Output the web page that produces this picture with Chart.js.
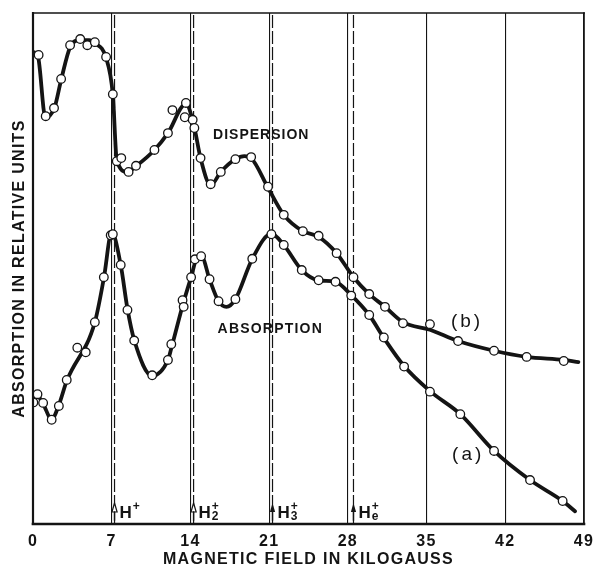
<!DOCTYPE html>
<html><head><meta charset="utf-8">
<script src="https://cdn.jsdelivr.net/npm/chart.js@4.4.1/dist/chart.umd.min.js"></script>
<style>html,body{margin:0;padding:0;background:#fff;}#wrap{width:597px;height:567px;}</style>
</head><body><div id="wrap"><canvas id="c" width="597" height="567"></canvas></div>
<script>
// x-axis (magnetic field, kilogauss) tick values
const xTicks = [0, 7, 14, 21, 28, 35, 42, 49];

// (b) Dispersion: measured points
const dispX = [0.5, 1.13, 1.87, 2.5, 3.3, 4.2, 4.83, 5.5, 6.5, 7.1, 7.45, 7.85, 8.5, 9.16, 10.8, 12.0, 12.4, 13.5, 13.6, 14.2, 14.35, 14.9, 15.8, 16.7, 18.0, 19.4, 20.9, 22.3, 24.0, 25.4, 27.0, 28.5, 29.9, 31.3, 32.9, 35.3, 37.8, 41.0, 43.9, 47.2];
const dispY = [91.8, 79.8, 81.4, 87.1, 93.7, 94.9, 93.7, 94.3, 91.4, 84.1, 71.0, 71.6, 68.9, 70.1, 73.2, 76.5, 81.0, 79.6, 82.4, 79.1, 77.5, 71.6, 66.5, 68.9, 71.4, 71.8, 66.0, 60.5, 57.3, 56.4, 53.0, 48.3, 45.0, 42.5, 39.3, 39.1, 35.8, 33.9, 32.7, 31.9];
// (b) Dispersion: drawn smooth curve
const dispCurveX = [0, 0.45, 1.1, 1.9, 2.5, 3.3, 4.2, 5.0, 5.5, 6.5, 7.1, 7.45, 8.4, 9.2, 10.8, 12.0, 13.6, 14.3, 14.9, 15.8, 16.7, 18.0, 18.8, 19.4, 20.9, 22.3, 24.0, 25.4, 27.0, 28.5, 29.9, 31.3, 32.9, 35.3, 37.8, 41.0, 43.9, 47.2, 48.5];
const dispCurveY = [92.4, 91.4, 79.6, 81.4, 86.9, 93.3, 94.7, 94.7, 94.1, 91.2, 84.0, 71.2, 68.9, 70.1, 73.2, 76.5, 82.2, 78.1, 71.6, 66.3, 68.9, 71.4, 72.0, 71.6, 65.8, 60.5, 57.3, 56.2, 53.0, 48.3, 45.0, 42.5, 39.5, 38.0, 35.8, 33.9, 32.7, 32.1, 31.7];

// (a) Absorption: measured points
const absX = [0.03, 0.4, 0.9, 1.66, 2.3, 3.0, 3.94, 4.69, 5.5, 6.3, 6.91, 7.1, 7.8, 8.4, 9.0, 10.6, 12.0, 12.3, 13.3, 13.4, 14.06, 14.4, 14.95, 15.7, 16.5, 18.0, 19.5, 21.2, 22.3, 23.9, 25.4, 26.9, 28.3, 29.9, 31.2, 33.0, 35.3, 38.0, 41.0, 44.2, 47.1];
const absY = [23.8, 25.4, 23.7, 20.4, 23.1, 28.2, 34.5, 33.6, 39.5, 48.3, 56.5, 56.7, 50.7, 41.9, 35.9, 29.1, 32.1, 35.2, 43.8, 42.5, 48.3, 51.8, 52.4, 47.9, 43.6, 44.0, 51.9, 56.7, 54.6, 49.7, 47.7, 47.4, 44.7, 40.9, 36.5, 30.8, 25.9, 21.5, 14.3, 8.6, 4.5];
// (a) Absorption: drawn smooth curve
const absCurveX = [0.0, 0.4, 0.9, 1.66, 2.3, 3.0, 5.5, 6.3, 7.0, 7.8, 8.4, 9.0, 10.6, 12.0, 12.3, 13.35, 14.06, 14.6, 15.0, 15.7, 16.5, 17.2, 18.0, 19.5, 21.2, 22.3, 23.9, 25.4, 26.9, 28.3, 29.9, 31.2, 33.0, 35.3, 38.0, 41.0, 44.2, 47.1, 48.2];
const absCurveY = [23.7, 25.0, 23.5, 20.5, 23.3, 28.0, 39.5, 48.1, 57.1, 50.7, 42.1, 36.0, 29.0, 32.1, 34.4, 43.1, 48.3, 52.1, 52.3, 47.9, 43.6, 42.5, 44.0, 51.9, 56.8, 54.6, 49.7, 47.7, 47.4, 44.8, 40.9, 36.4, 30.9, 26.0, 21.5, 14.3, 8.6, 4.5, 2.5];

// cyclotron resonance fields of the ions (dashed lines) and their labels
const resonanceX = [7.25, 14.28, 21.3, 28.5];
const resonanceSub = ['', '2', '3', 'e'];
const resonanceFilled = [false, false, true, true];

const toPts = (xs, ys) => xs.map((v, i) => ({x: v, y: ys[i]}));
const INK = '#141414';
const FONT = "'Liberation Sans', Arial, sans-serif";

const resonanceSets = resonanceX.map(rx => ({
  data: [{x: rx, y: 0}, {x: rx, y: 100}],
  showLine: true, borderColor: INK, borderWidth: 1.2, borderDash: [13, 3],
  pointRadius: 0, order: 3
}));

const decor = {
  id: 'decor',
  beforeDraw(chart) { chart.ctx.letterSpacing = '1.3px'; },
  beforeDatasetsDraw(chart) { chart.ctx.letterSpacing = '0px'; },
  afterDraw(chart) {
    const {ctx, chartArea: a, scales: {x, y}} = chart;
    ctx.save();
    ctx.letterSpacing = '0px';
    ctx.strokeStyle = INK; ctx.fillStyle = INK;
    ctx.lineCap = 'square';
    const line = (x1, y1, x2, y2, w) => { ctx.lineWidth = w; ctx.beginPath(); ctx.moveTo(x1, y1); ctx.lineTo(x2, y2); ctx.stroke(); };
    line(a.left, a.top, a.right, a.top, 1.6);
    line(a.right, a.top, a.right, a.bottom, 1.6);
    line(a.left, a.top, a.left, a.bottom, 2.2);
    line(a.left, a.bottom, a.right, a.bottom, 2.6);

    // resonance arrows + labels
    resonanceX.forEach((rx, i) => {
      const px = x.getPixelForValue(rx);
      const tip = a.bottom - 21, base = a.bottom - 12;
      ctx.lineWidth = 1.2;
      ctx.beginPath(); ctx.moveTo(px, tip); ctx.lineTo(px - 2.6, base); ctx.lineTo(px + 2.6, base); ctx.closePath();
      if (resonanceFilled[i]) ctx.fill(); else { ctx.fillStyle = '#fff'; ctx.fill(); ctx.fillStyle = INK; ctx.stroke(); }
      line(px, base, px, a.bottom - 4, 1.4);
      ctx.font = `bold 17px ${FONT}`;
      ctx.textAlign = 'left'; ctx.textBaseline = 'alphabetic';
      const hx = px + 5, hy = a.bottom - 6;
      ctx.fillText('H', hx, hy);
      const w = ctx.measureText('H').width;
      ctx.font = `bold 12px ${FONT}`;
      ctx.fillText('+', hx + w + 1, hy - 8);
      if (resonanceSub[i]) ctx.fillText(resonanceSub[i], hx + w + 1, hy + 2);
    });

    const label = (txt, vx, vy, font, spacing) => {
      ctx.font = font; ctx.letterSpacing = spacing;
      ctx.textAlign = 'center'; ctx.textBaseline = 'middle';
      ctx.fillText(txt, x.getPixelForValue(vx), y.getPixelForValue(vy));
    };
    label('DISPERSION', 20.3, 76.0, `bold 14px ${FONT}`, '1px');
    label('ABSORPTION', 21.1, 38.2, `bold 14px ${FONT}`, '1.2px');
    label('(b)', 38.6, 39.5, `19px ${FONT}`, '3px');
    label('(a)', 38.7, 13.5, `19px ${FONT}`, '3px');
    ctx.restore();
  }
};

new Chart(document.getElementById('c'), {
  type: 'scatter',
  data: {
    datasets: [
      {label: '(b) dispersion points', data: toPts(dispX, dispY), pointRadius: 4.3, pointBackgroundColor: '#fff', pointBorderColor: INK, pointBorderWidth: 1.3, showLine: false, order: 0},
      {label: '(a) absorption points', data: toPts(absX, absY), pointRadius: 4.3, pointBackgroundColor: '#fff', pointBorderColor: INK, pointBorderWidth: 1.3, showLine: false, order: 0},
      {label: '(b) dispersion', data: toPts(dispCurveX, dispCurveY), showLine: true, borderColor: INK, borderWidth: 3.8, pointRadius: 0, cubicInterpolationMode: 'monotone', borderCapStyle: 'round', borderJoinStyle: 'round', order: 1},
      {label: '(a) absorption', data: toPts(absCurveX, absCurveY), showLine: true, borderColor: INK, borderWidth: 3.8, pointRadius: 0, cubicInterpolationMode: 'monotone', borderCapStyle: 'round', borderJoinStyle: 'round', order: 1},
      ...resonanceSets
    ]
  },
  options: {
    responsive: false, animation: false, devicePixelRatio: 1,
    layout: {padding: {top: 13, right: 13, left: 0, bottom: 0}},
    plugins: {legend: {display: false}, tooltip: {enabled: false}},
    scales: {
      x: {
        type: 'linear', min: 0, max: 49,
        afterFit: s => { s.height = 43; s.paddingLeft = 0; s.paddingRight = 0; },
        afterBuildTicks: s => { s.ticks = xTicks.map(v => ({value: v})); },
        grid: {color: INK, lineWidth: 1.1, drawTicks: false},
        border: {display: false},
        ticks: {color: INK, padding: 8, font: {family: FONT, size: 16, weight: 'bold'}},
        title: {display: true, text: 'MAGNETIC FIELD IN KILOGAUSS', color: INK, padding: {top: 0, bottom: -2}, font: {family: FONT, size: 16, weight: 'bold'}}
      },
      y: {
        type: 'linear', min: 0, max: 100,
        afterFit: s => { s.width = 33; s.paddingTop = 0; s.paddingBottom = 0; },
        grid: {display: false}, border: {display: false},
        ticks: {display: false},
        title: {display: true, text: 'ABSORPTION IN RELATIVE UNITS', color: INK, padding: {top: 10, bottom: 0}, font: {family: FONT, size: 16, weight: 'bold'}}
      }
    }
  },
  plugins: [decor]
});
</script></body></html>
